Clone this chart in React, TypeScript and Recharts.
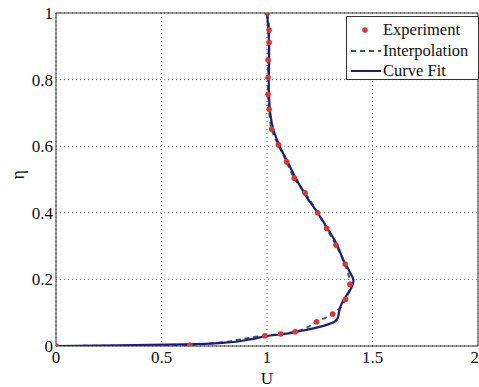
import {
  CartesianGrid,
  ComposedChart,
  Line,
  ReferenceLine,
  Scatter,
  XAxis,
  YAxis
} from "recharts";

// measured points (U, eta)
const experimentU = [
  0, 0.635, 0.99, 1.065, 1.133, 1.235, 1.311, 1.372, 1.393, 1.37, 1.327, 1.283, 1.24,
  1.18, 1.129, 1.093, 1.054, 1.022, 1.01, 1.005, 1.005, 1.005, 1.01, 1.01, 1.0
];
const experimentEta = [
  0, 0.003, 0.031, 0.036, 0.043, 0.073, 0.096, 0.14, 0.185, 0.246, 0.303, 0.353, 0.4,
  0.46, 0.504, 0.553, 0.604, 0.651, 0.711, 0.756, 0.806, 0.859, 0.912, 0.949, 1.0
];

// fitted profile (U, eta)
const fitU = [
  0, 0.3, 0.6, 0.8, 0.92, 1.0, 1.08, 1.16, 1.24, 1.29, 1.318, 1.332, 1.338, 1.342, 1.352,
  1.375, 1.4, 1.41, 1.39, 1.36, 1.335, 1.29, 1.24, 1.185, 1.14, 1.1, 1.06, 1.03, 1.015,
  1.01, 1.008, 1.01, 1.01, 1.006, 1.0
];
const fitEta = [
  0, 0.002, 0.005, 0.01, 0.02, 0.03, 0.036, 0.045, 0.056, 0.065, 0.072, 0.08, 0.09, 0.105,
  0.125, 0.15, 0.175, 0.195, 0.225, 0.26, 0.3, 0.35, 0.4, 0.45, 0.5, 0.55, 0.6, 0.65,
  0.7, 0.75, 0.8, 0.85, 0.9, 0.95, 1.0
];

const xTicks = [0, 0.5, 1, 1.5, 2];
const yTicks = [0, 0.2, 0.4, 0.6, 0.8, 1];

const experiment = experimentU.map((u, i) => ({ u, eta: experimentEta[i] }));
const fit = fitU.map((u, i) => ({ u, eta: fitEta[i] }));

const FONT = "Liberation Serif";
const RED = "#e0342c";
const GREEN = "#2e6b3c";
const NAVY = "#1c1c86";

const fmt = (v: number) => String(v);

const Dot = (props: any) => <circle cx={props.cx} cy={props.cy} r={2.8} fill={RED} />;

function LegendBox() {
  const rows = [
    { name: "Experiment", kind: "dot" },
    { name: "Interpolation", kind: "dash" },
    { name: "Curve Fit", kind: "line" }
  ];
  return (
    <div
      style={{
        position: "absolute",
        left: 346,
        top: 16,
        width: 131,
        height: 62,
        border: "1px solid #333",
        background: "#fff",
        fontFamily: FONT,
        fontSize: 16.5,
        color: "#111"
      }}
    >
      {rows.map((r, i) => (
        <div
          key={r.name}
          style={{
            position: "absolute",
            left: 3,
            top: 3 + i * 20.5,
            height: 20,
            display: "flex",
            alignItems: "center"
          }}
        >
          <svg width={32} height={20} style={{ marginRight: 1 }}>
            {r.kind === "dot" && <circle cx={15} cy={10} r={2.8} fill={RED} />}
            {r.kind === "dash" && (
              <line x1={1} x2={31} y1={10} y2={10} stroke={GREEN} strokeWidth={2} strokeDasharray="5 4" />
            )}
            {r.kind === "line" && <line x1={1} x2={31} y1={10} y2={10} stroke={NAVY} strokeWidth={2} />}
          </svg>
          <span style={{ lineHeight: "20px" }}>{r.name}</span>
        </div>
      ))}
    </div>
  );
}

export default function App() {
  return (
    <div style={{ position: "absolute", left: 0, top: 0, width: 479, height: 387, background: "#fff" }}>
      <ComposedChart width={479} height={387} margin={{ top: 13, right: 1, bottom: 11, left: 0 }}>
        <CartesianGrid stroke="#777" strokeDasharray="1 3" />
        <XAxis
          dataKey="u"
          type="number"
          domain={[0, 2]}
          ticks={xTicks}
          tickFormatter={fmt}
          height={30}
          tickLine={false}
          tickSize={4}
          tickMargin={1}
          stroke="#333"
          tick={{ fill: "#111", fontFamily: FONT, fontSize: 17 }}
          label={{ value: "U", position: "insideBottom", offset: -8, fill: "#111", fontFamily: FONT, fontSize: 17 }}
          allowDataOverflow
        />
        <YAxis
          dataKey="eta"
          type="number"
          domain={[0, 1]}
          ticks={yTicks}
          tickFormatter={fmt}
          width={56}
          tickLine={false}
          tickSize={3}
          tickMargin={0}
          stroke="#333"
          tick={{ fill: "#111", fontFamily: FONT, fontSize: 17 }}
          label={{ value: "η", angle: -90, position: "insideLeft", offset: 18, fill: "#111", fontFamily: FONT, fontSize: 18 }}
          allowDataOverflow
        />
        <ReferenceLine y={1} stroke="#333" />
        <ReferenceLine x={2} stroke="#333" />
        <Line
          data={experiment}
          dataKey="eta"
          type="monotoneY"
          stroke={GREEN}
          strokeWidth={2}
          strokeDasharray="5 4"
          dot={false}
          activeDot={false}
          isAnimationActive={false}
        />
        <Line
          data={fit}
          dataKey="eta"
          type="monotoneY"
          stroke={NAVY}
          strokeWidth={2.2}
          dot={false}
          activeDot={false}
          isAnimationActive={false}
        />
        <Scatter data={experiment} dataKey="eta" fill={RED} shape={Dot} isAnimationActive={false} />
      </ComposedChart>
      <LegendBox />
    </div>
  );
}
